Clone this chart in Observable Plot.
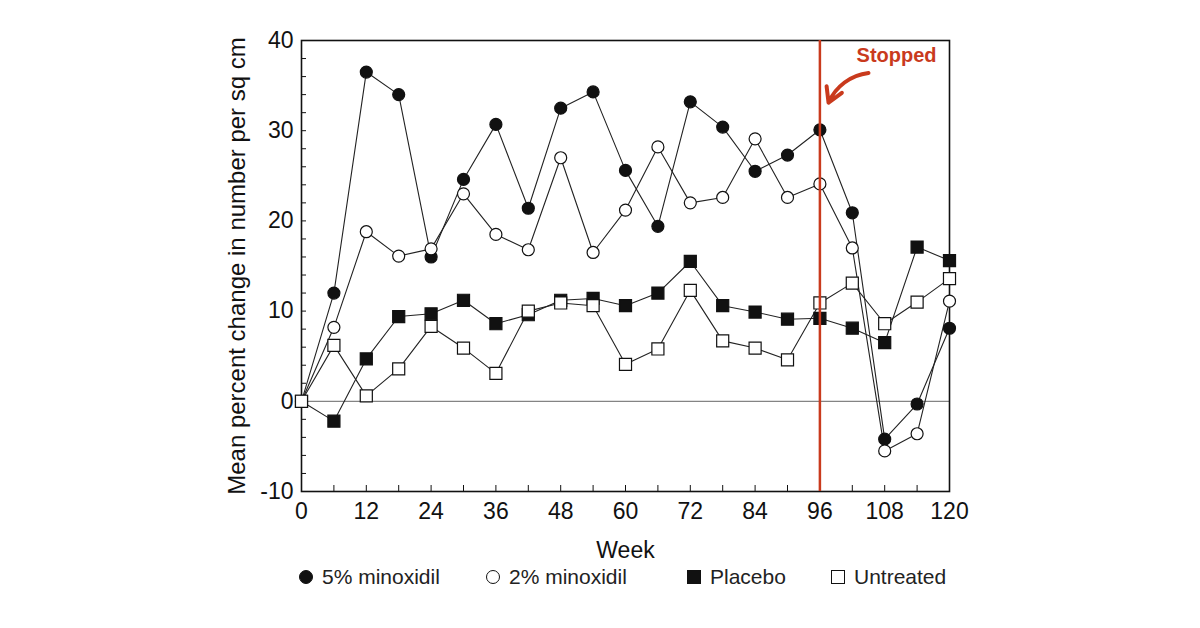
<!DOCTYPE html>
<html>
<head>
<meta charset="utf-8">
<script src="https://cdn.jsdelivr.net/npm/d3@7"></script>
<script src="https://cdn.jsdelivr.net/npm/@observablehq/plot@0.6"></script>
<style>
  html, body { margin: 0; padding: 0; background: #fff; }
  body { width: 1200px; height: 628px; position: relative; overflow: hidden; font-family: "Liberation Sans", Arial, sans-serif; }
  #legend { position: absolute; top: 562px; left: 0; width: 1200px; height: 30px; font-size: 21px; color: #222; }
  .item { position: absolute; top: 0; display: flex; align-items: center; height: 30px; }
  .sym { display: inline-block; margin-right: 9px; box-sizing: border-box; }
</style>
</head>
<body>
<div id="chart"></div>
<div id="legend"></div>
<script>
// ---- data ----
const weeks = [0, 6, 12, 18, 24, 30, 36, 42, 48, 54, 60, 66, 72, 78, 84, 90, 96, 102, 108, 114, 120];
const minoxidil5 = [0, 12.0, 36.5, 34.0, 16.0, 24.6, 30.7, 21.4, 32.5, 34.3, 25.6, 19.4, 33.2, 30.4, 25.5, 27.3, 30.1, 20.9, -4.2, -0.3, 8.1];
const minoxidil2 = [0, 8.2, 18.8, 16.1, 16.9, 23.0, 18.5, 16.8, 27.0, 16.5, 21.2, 28.2, 22.0, 22.6, 29.1, 22.6, 24.1, 17.0, -5.5, -3.6, 11.1];
const placebo = [0, -2.2, 4.7, 9.4, 9.7, 11.2, 8.6, 9.6, 11.2, 11.4, 10.6, 12.0, 15.5, 10.6, 9.9, 9.1, 9.2, 8.1, 6.5, 17.1, 15.6];
const untreated = [0, 6.2, 0.6, 3.6, 8.3, 5.9, 3.1, 10.0, 10.9, 10.6, 4.1, 5.8, 12.3, 6.7, 5.9, 4.6, 10.9, 13.1, 8.6, 11.0, 13.6];

const seriesNames = ["5% minoxidil", "2% minoxidil", "Placebo", "Untreated"];
const xTicks = [0, 12, 24, 36, 48, 60, 72, 84, 96, 108, 120];
const xMinorTicks = [6, 12, 18, 24, 30, 36, 42, 48, 54, 60, 66, 72, 78, 84, 90, 96, 102, 108, 114];
const yTicks = [-10, 0, 10, 20, 30, 40];
const yMinorTicks = [-8, -6, -4, -2, 0, 2, 4, 6, 8, 10, 12, 14, 16, 18, 20, 22, 24, 26, 28, 30, 32, 34, 36, 38];
const xLabel = "Week";
const yLabel = "Mean percent change in number per sq cm";
const stopWeek = 96;
const stopLabel = [{x: 110.2, y: 38.3, text: "Stopped"}];
const stopArrow = [{x1: 105.0, y1: 36.4, x2: 97.6, y2: 33.1}];

// ---- styles ----
const styles = {
  "5% minoxidil": {symbol: "circle", fill: "#111", r: 6},
  "2% minoxidil": {symbol: "circle", fill: "#fff", r: 6},
  "Placebo": {symbol: "square", fill: "#111", r: 6.8},
  "Untreated": {symbol: "square", fill: "#fff", r: 6.8}
};
const red = "#c93a1d";

const seriesValues = [minoxidil5, minoxidil2, placebo, untreated];
const rows = [];
seriesNames.forEach((name, i) => {
  weeks.forEach((w, j) => rows.push({series: name, week: w, value: seriesValues[i][j]}));
});

const W = 1200, H = 560;
const mL = 301, mR = 251, mT = 40, mB = 69;
const plotW = W - mL - mR, plotH = H - mT - mB;

const marks = [
  Plot.ruleY([0], {stroke: "#666", strokeWidth: 1}),
  Plot.frame({stroke: "#111", strokeWidth: 1.6}),
  Plot.tickY(yMinorTicks, {y: d => d, insetRight: plotW - 5, stroke: "#111", strokeWidth: 1}),
  Plot.tickX(xMinorTicks, {x: d => d, insetTop: plotH - 6, stroke: "#111", strokeWidth: 1}),
  Plot.axisX(xTicks, {tickSize: 0, tickPadding: 11, fontSize: 23, fill: "#111", tickFormat: d => String(d)}),
  Plot.axisY(yTicks, {tickSize: 0, tickPadding: 8, fontSize: 23, fill: "#111", tickFormat: d => String(d)}),
  Plot.text([xLabel], {frameAnchor: "bottom", dy: 59, fontSize: 23, fill: "#111", lineAnchor: "middle"}),
  Plot.text([yLabel], {frameAnchor: "left", rotate: -90, dx: -64, fontSize: 24, fill: "#111", textAnchor: "middle", lineAnchor: "middle"}),
  Plot.line(rows, {x: "week", y: "value", z: "series", stroke: "#222", strokeWidth: 1.1})
];
seriesNames.forEach(name => {
  const s = styles[name];
  marks.push(Plot.dot(rows.filter(d => d.series === name), {
    x: "week", y: "value", symbol: s.symbol, r: s.r, fill: s.fill, stroke: "#111", strokeWidth: 1.2
  }));
});
marks.push(
  Plot.ruleX([stopWeek], {stroke: red, strokeWidth: 2.5}),
  Plot.text(stopLabel, {x: "x", y: "y", text: "text", fill: red, fontSize: 20, fontWeight: "bold", lineAnchor: "middle"}),
  Plot.arrow(stopArrow, {x1: "x1", y1: "y1", x2: "x2", y2: "y2", bend: -30, stroke: red, strokeWidth: 4, headLength: 12, insetEnd: 0})
);

const chart = Plot.plot({
  width: W, height: H,
  marginLeft: mL, marginRight: mR, marginTop: mT, marginBottom: mB,
  style: {fontFamily: "'Liberation Sans', Arial, sans-serif", background: "#fff", overflow: "visible"},
  x: {domain: [0, 120], label: null, axis: null},
  y: {domain: [-10, 40], label: null, axis: null},
  marks
});
document.getElementById("chart").appendChild(chart);

// ---- legend ----
const legendPos = {"5% minoxidil": 299, "2% minoxidil": 486, "Placebo": 687, "Untreated": 831};
const legend = document.getElementById("legend");
seriesNames.forEach(name => {
  const s = styles[name];
  const item = document.createElement("div");
  item.className = "item";
  item.style.left = legendPos[name] + "px";
  const sym = document.createElement("span");
  sym.className = "sym";
  sym.style.width = "14px";
  sym.style.height = "14px";
  sym.style.border = "1.3px solid #111";
  sym.style.background = s.fill;
  if (s.symbol === "circle") sym.style.borderRadius = "50%";
  const label = document.createElement("span");
  label.textContent = name;
  item.appendChild(sym);
  item.appendChild(label);
  legend.appendChild(item);
});
</script>
</body>
</html>
